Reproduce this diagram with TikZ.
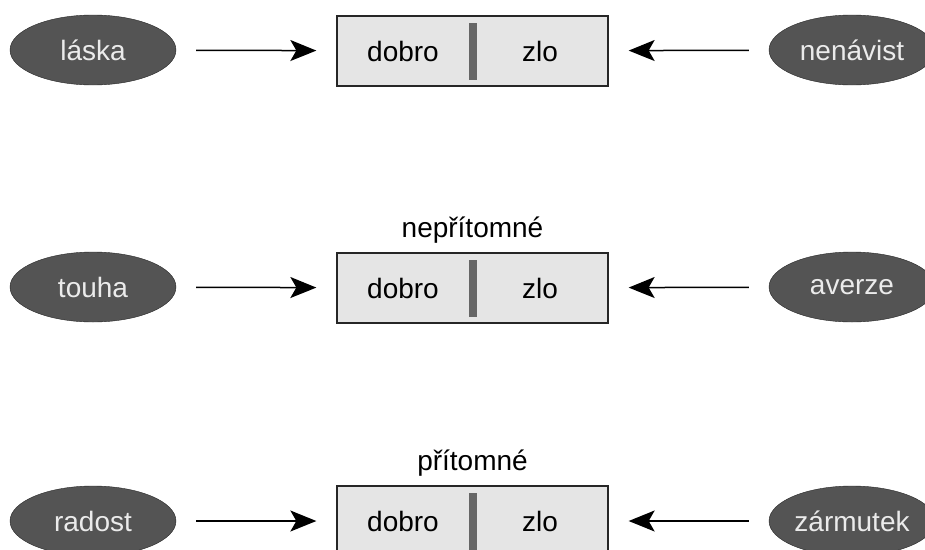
\documentclass[tikz,border=0pt]{standalone}
\usepackage{fontspec}
\setmainfont{Liberation Sans}
\usetikzlibrary{shapes.geometric,arrows.meta}

\tikzset{
  cit/.style = {ellipse, draw = black!85, fill = black!67, text = black!8, inner sep = 0pt,
    minimum width = 166pt, minimum height = 70pt, font = \fontsize{28}{30}\selectfont},
  pole/.style = {rectangle, draw = black!85, line width = 1.3pt, fill = black!10, inner sep = 0pt,
    minimum width = 271pt, minimum height = 70pt},
  bar/.style = {rectangle, fill = black!60, inner sep = 0pt, minimum width = 8pt, minimum height = 57pt},
  word/.style = {font = \fontsize{28}{30}\selectfont, inner sep = 0pt},
  tah/.style = {-{Stealth[length = 26pt, width = 21pt, inset = 6pt]}, line width = 1.5pt,
    shorten < = 20pt, shorten > = 20pt}
}

\begin{document}
\begin{tikzpicture}[x = 1pt, y = -1pt]
\useasboundingbox (0,0) rectangle (925,549);
\clip (0,0) rectangle (925,549);
% prvni rada
\node[cit] (laska) at (93,50) {láska};
\node[pole] (P1) at (472.5,51) {};
\node[bar] (s1) at (P1.center) {};
\node[word] (d1) at (403,51) {dobro};
\node[word] (z1) at (540,51) {zlo};
\node[cit] (nenavist) at (852,50) {nenávist};
\draw[tah] (laska) -- (P1);
\draw[tah] (nenavist) -- (P1);
% druha rada
\node[cit] (touha) at (93,287) {touha};
\node[pole] (P2) at (472.5,288) {};
\node[bar] (s2) at (P2.center) {};
\node[word] (d2) at (403,288) {dobro};
\node[word] (z2) at (540,288) {zlo};
\node[word, above = 9pt] (N2) at (P2.north) {nepřítomné};
\node[cit] (averze) at (852,287) {averze};
\draw[tah] (touha) -- (P2);
\draw[tah] (averze) -- (P2);
% treti rada
\node[cit] (radost) at (93,521) {radost};
\node[pole] (P3) at (472.5,521) {};
\node[bar] (s3) at (P3.center) {};
\node[word] (d3) at (403,521) {dobro};
\node[word] (z3) at (540,521) {zlo};
\node[word, above = 9pt] (N3) at (P3.north) {přítomné};
\node[cit] (zarmutek) at (852,521) {zármutek};
\draw[tah] (radost) -- (P3);
\draw[tah] (zarmutek) -- (P3);
\end{tikzpicture}
\end{document}
